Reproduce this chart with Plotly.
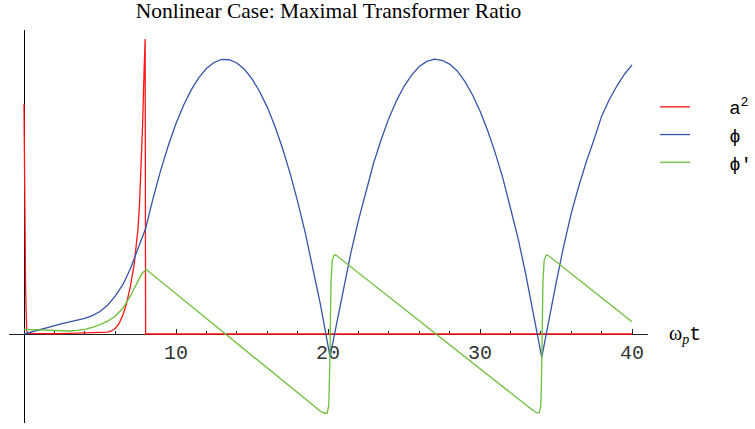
import plotly.graph_objects as go

# ---- data (time in units of 1/omega_p) ----
t_a2 = [0, 0.03, 0.07, 0.1, 0.14, 0.18, 0.25, 1, 2, 3, 4, 5, 5.5, 5.75, 6, 6.25,
        6.5, 6.75, 7, 7.25, 7.5, 7.6, 7.7, 7.8, 7.9, 7.97, 8.0, 40]
a2 = [8.4, 5.8, 3.1, 1.9, 0.8, 0.12, 0.02, 0.01, 0.01, 0.02, 0.03, 0.05, 0.07, 0.11,
      0.2, 0.38, 0.68, 1.12, 1.75, 2.55, 3.85, 4.75, 5.95, 7.6, 9.6, 10.77, 0, 0]

t_phi = [0, 0.5, 1, 1.5, 2, 2.5, 3, 3.5, 4, 4.5, 5, 5.5, 6, 6.5, 7, 7.5, 8, 8.5, 9,
         9.5, 10, 10.5, 11, 11.5, 12, 12.5, 13, 13.5, 14, 14.5, 15, 15.5, 16, 16.5,
         17, 17.5, 18, 18.5, 19, 19.5, 19.8, 20.0, 20.13, 20.25, 20.46, 20.75, 21,
         21.5, 22, 22.5, 23, 23.5, 24, 24.5, 25, 25.5, 26, 26.5, 27, 27.5, 28, 28.5,
         29, 29.5, 30, 30.5, 31, 31.5, 32, 32.5, 33, 33.5, 33.8, 34.06, 34.2, 34.45,
         35, 35.5, 36, 36.5, 37, 37.5, 38, 38.5, 39, 39.5, 40]
phi = [0, 0.08, 0.16, 0.24, 0.32, 0.38, 0.44, 0.5, 0.57, 0.67, 0.82, 1.05, 1.38, 1.8,
       2.38, 3.12, 3.85, 4.97, 5.99, 6.89, 7.68, 8.35, 8.91, 9.36, 9.69, 9.91, 10.02,
       10.01, 9.89, 9.66, 9.31, 8.85, 8.28, 7.59, 6.79, 5.87, 4.84, 3.70, 2.45, 1.08,
       0.18, -0.42, -0.83, -0.5, 0.08, 0.85, 1.6, 2.95, 4.15, 5.25, 6.24, 7.1, 7.87,
       8.51, 9.04, 9.45, 9.76, 9.95, 10.03, 9.99, 9.85, 9.6, 9.22, 8.73, 8.14, 7.43,
       6.61, 5.69, 4.63, 3.5, 2.2, 0.72, -0.1, -0.85, -0.45, 0.3, 1.85, 3.2, 4.4, 5.4,
       6.3, 7.1, 7.95, 8.55, 9.05, 9.48, 9.82]

t_dphi = [0, 0.5, 1, 1.5, 2, 2.5, 3, 3.5, 4, 4.5, 5, 5.5, 6, 6.5, 7, 7.5, 7.75, 8.03,
          10, 12, 14, 16, 18, 19, 19.5, 19.8, 19.95, 20.05, 20.1, 20.13, 20.16, 20.2,
          20.28, 20.4, 20.5, 22, 24, 26, 28, 30, 32, 33, 33.5, 33.75, 33.9, 34.0,
          34.04, 34.07, 34.1, 34.14, 34.22, 34.35, 34.45, 36, 38, 40]
dphi = [0.17, 0.16, 0.15, 0.13, 0.12, 0.11, 0.11, 0.13, 0.17, 0.24, 0.34, 0.47, 0.65,
        0.94, 1.38, 1.93, 2.2, 2.36, 1.47, 0.56, -0.35, -1.26, -2.17, -2.62, -2.82,
        -2.9, -2.88, -2.6, -1.8, -0.8, 0.6, 1.9, 2.7, 2.88, 2.89, 2.23, 1.36, 0.48,
        -0.39, -1.27, -2.14, -2.58, -2.79, -2.88, -2.87, -2.6, -1.8, -0.6, 0.6, 1.9,
        2.7, 2.88, 2.88, 2.19, 1.32, 0.45]

major_ticks = [10, 20, 30, 40]
tick_labels = ["10", "20", "30", "40"]
series_names = ["a<sup>2</sup>", "ϕ", "ϕ'"]

RED, BLUE, GREEN = "#ff1414", "#3555a8", "#6cbf3a"
MONO = "Liberation Mono"
SERIF = "Liberation Serif"

x_range = [-0.987, 41.05]
y_range = [-3.248, 11.095]
x0_frac = (0 - x_range[0]) / (x_range[1] - x_range[0])
y0_frac = (0 - y_range[0]) / (y_range[1] - y_range[0])

pad = "\u00a0" * 3
fig = go.Figure()
fig.add_trace(go.Scatter(x=t_a2, y=a2, mode="lines", name=pad + series_names[0],
                         line=dict(color=RED, width=1.3)))
fig.add_trace(go.Scatter(x=t_phi, y=phi, mode="lines", name=pad + series_names[1],
                         line=dict(color=BLUE, width=1.3)))
fig.add_trace(go.Scatter(x=t_dphi, y=dphi, mode="lines", name=pad + series_names[2],
                         line=dict(color=GREEN, width=1.3)))

fig.update_layout(
    width=755, height=429,
    margin=dict(l=9, r=107, t=30, b=6, autoexpand=False),
    paper_bgcolor="white", plot_bgcolor="white",
    title=dict(text="Nonlinear Case: Maximal Transformer Ratio",
               font=dict(family=SERIF, size=21.5, color="black"),
               x=0.5, xref="paper", xanchor="center",
               y=1 - 10 / 429, yref="container", yanchor="middle"),
    xaxis=dict(range=x_range, anchor="free", position=y0_frac,
               showline=True, linecolor="#222", linewidth=1,
               ticks="inside", ticklen=5, tickcolor="#222", tickwidth=1,
               tickvals=major_ticks, ticktext=tick_labels,
               tickfont=dict(family=MONO, size=20, color="#333"),
               minor=dict(tick0=0, dtick=2, ticks="inside", ticklen=3,
                          tickcolor="#222", showgrid=False),
               showgrid=False, zeroline=False, layer="below traces"),
    yaxis=dict(range=y_range, anchor="free", position=x0_frac,
               showline=True, linecolor="black", linewidth=1,
               ticks="", showticklabels=False,
               showgrid=False, zeroline=False, layer="below traces"),
    legend=dict(x=(655 - 9) / 639, y=1 - (88 - 30) / 393, xanchor="left", yanchor="top",
                font=dict(family=MONO, size=19, color="black"),
                bgcolor="rgba(0,0,0,0)", borderwidth=0),
    annotations=[dict(
        text="<span style='font-family:Liberation Serif'>ω<sub><i>p</i></sub></span>t",
        font=dict(family=MONO, size=20, color="black"),
        x=(667 - 9) / 639, xref="paper", xanchor="left",
        y=0, yref="y", yanchor="middle", showarrow=False)],
)

fig.write_html("out.html")
